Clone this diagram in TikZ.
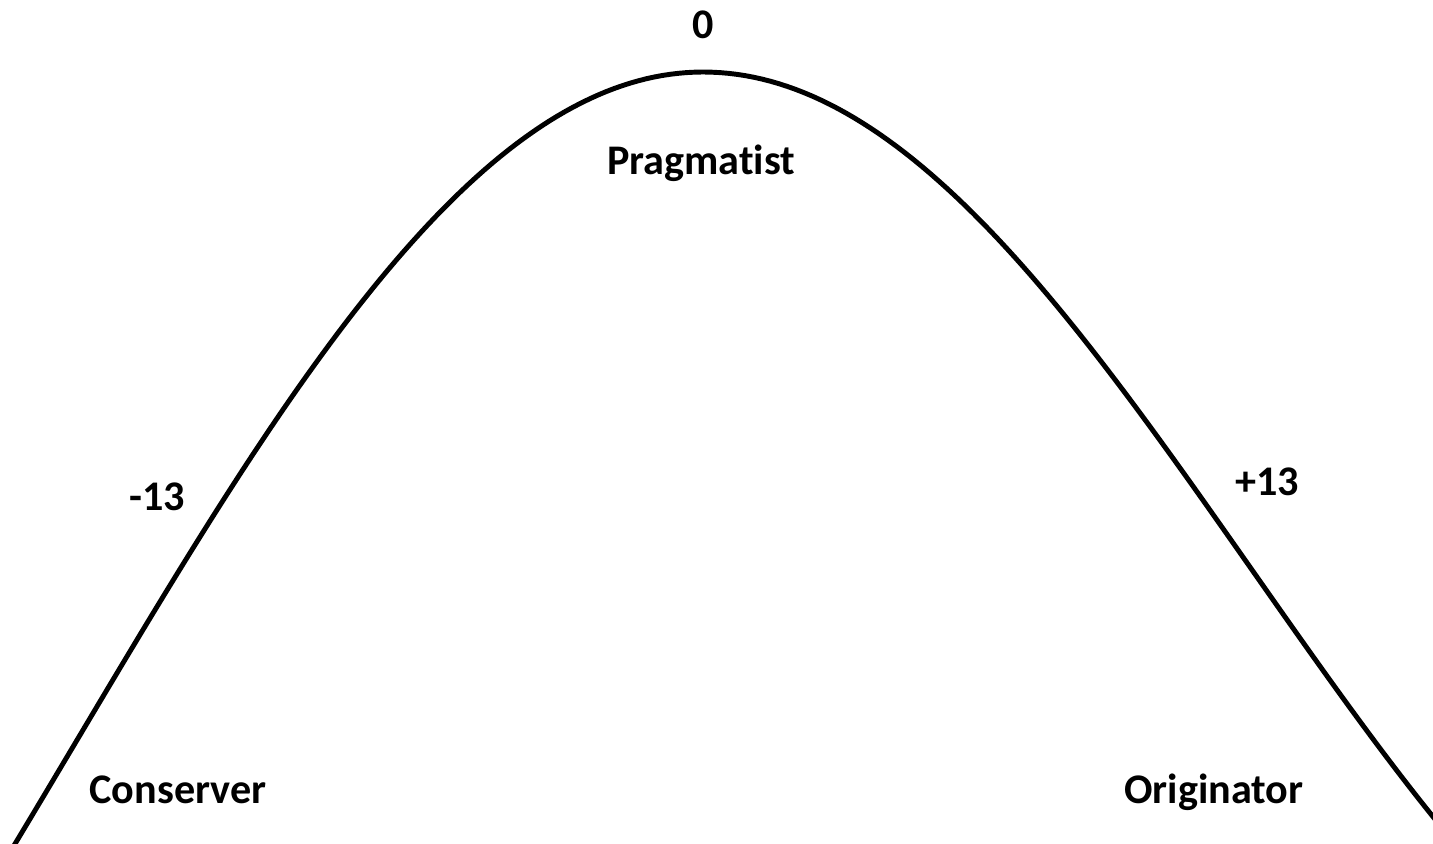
\documentclass[tikz,border=0pt]{standalone}
\usepackage{fontspec}
\setmainfont[Ligatures=NoCommon]{Carlito}
\usepackage{tikz}

\begin{document}
\begin{tikzpicture}[x=0.02cm, y=-0.02cm,
      lbl/.style={font=\fontsize{24}{28}\selectfont\bfseries,
                  anchor=base, inner sep=0pt},
      crv/.style={line width=2.8pt, black, line join=round}
  ]
    \useasboundingbox (0,0) rectangle (1433,844);
    \begin{scope}
      \clip (0,0) rectangle (1433,844);
      % left and right flank of the curve, peak at (703,72)
      \draw[crv] plot[domain=-720:0, samples=90]
          ({703+\x},{72+672*(1-cos(\x/400 r))})
        -- plot[domain=0:750, samples=90]
          ({703+\x},{72+499*(1-cos(\x/350 r))});
    \end{scope}
    \node[lbl] (zero) at (703,39) {0};
    \node[lbl] (prag) at (701,175) {Pragmatist};
    \node[lbl] (minus) at (157,510) {-13};
    \node[lbl] (plus) at (1267,495) {+13};
    \node[lbl] (cons) at (178,803) {Conserver};
    \node[lbl] (orig) at (1214,803) {Originator};
  \end{tikzpicture}
\end{document}
